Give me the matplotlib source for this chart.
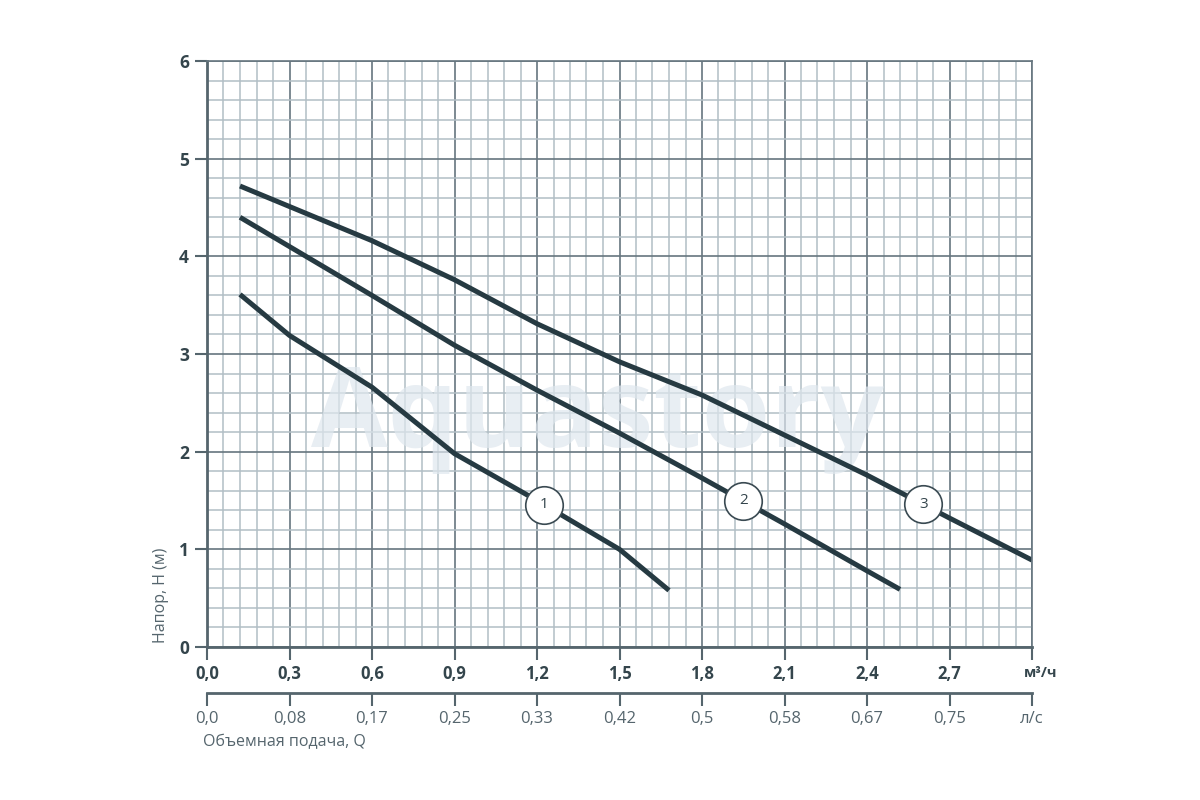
import matplotlib.pyplot as plt
import numpy as np

plt.rcParams['font.family'] = ['Open Sans', 'DejaVu Sans']

# pump curves: flow Q (m3/h) vs head H (m)
q1 = [0.12, 0.3, 0.6, 0.9, 1.2, 1.5, 1.68]
h1 = [3.61, 3.19, 2.66, 1.98, 1.50, 1.00, 0.58]

q2 = [0.12, 0.6, 0.9, 1.2, 1.5, 1.8, 2.1, 2.4, 2.52]
h2 = [4.40, 3.60, 3.09, 2.63, 2.19, 1.73, 1.26, 0.78, 0.59]

q3 = [0.12, 0.6, 0.9, 1.2, 1.5, 1.8, 2.1, 2.4, 2.7, 3.0]
h3 = [4.72, 4.16, 3.76, 3.31, 2.92, 2.58, 2.17, 1.76, 1.32, 0.89]

curve_names = ['1', '2', '3']
label_q = [1.225, 1.95, 2.605]

q_ticks = [0.0, 0.3, 0.6, 0.9, 1.2, 1.5, 1.8, 2.1, 2.4, 2.7, 3.0]
q_labels = ['0,0', '0,3', '0,6', '0,9', '1,2', '1,5', '1,8', '2,1', '2,4', '2,7', '']
ls_labels = ['0,0', '0,08', '0,17', '0,25', '0,33', '0,42', '0,5', '0,58', '0,67', '0,75', 'л/с']
h_ticks = [0, 1, 2, 3, 4, 5, 6]

dark = '#34454c'
mid = '#55656d'

fig = plt.figure(figsize=(12, 8), dpi=100)
ax = fig.add_axes([0.1725, 0.19125, 0.6875, 0.7325])

ax.set_xlim(0, 3.0)
ax.set_ylim(0, 6)
ax.set_xticks(q_ticks)
ax.set_xticklabels(q_labels, fontweight='bold', fontsize=12, color=dark)
ax.set_xticks(np.arange(0, 3.0001, 0.06), minor=True)
ax.set_yticks(h_ticks)
ax.set_yticklabels([str(v) for v in h_ticks], fontweight='bold', fontsize=12.5, color=dark)
ax.set_yticks(np.arange(0, 6.0001, 0.2), minor=True)

ax.set_axisbelow(True)
ax.grid(which='major', color='#66767f', lw=1.2)
ax.grid(which='minor', color='#b2bec5', lw=1.1)

ax.tick_params(which='major', length=9, width=1.5, color=mid, pad=4)
ax.tick_params(which='minor', length=0)
for s in ['top', 'right']:
    ax.spines[s].set_color('#66767f')
    ax.spines[s].set_linewidth(1.2)
for s in ['left', 'bottom']:
    ax.spines[s].set_color(mid)
    ax.spines[s].set_linewidth(2)

# watermark
ax.text(0.473, 0.341, 'Aquastory', transform=ax.transAxes, ha='center', va='baseline',
        fontsize=80, fontweight='bold', color='#dfe7ee', alpha=0.7, zorder=1)

line_color = '#263a42'
for q, h, name, lq in zip([q1, q2, q3], [h1, h2, h3], curve_names, label_q):
    ax.plot(q, h, color=line_color, lw=3.6, solid_capstyle='butt',
            solid_joinstyle='round', zorder=2)
    lh = np.interp(lq, q, h)
    ax.plot([lq], [lh], 'o', ms=27, mfc='white', mec='#3a4a52', mew=1.2, zorder=3)
    ax.text(lq, lh, name, ha='center', va='center', fontsize=11, color=dark, zorder=4)

ax.text(3.03, -0.27, 'м³/ч', ha='center', va='center', fontsize=10.5,
        fontweight='bold', color=dark)

# second flow axis in l/s
sec = ax.secondary_xaxis(-0.0785)
sec.set_xticks(q_ticks)
sec.set_xticklabels(ls_labels, fontsize=12, color=mid)
sec.tick_params(length=9, width=1.5, color=mid, pad=4)
sec.spines['bottom'].set_color(mid)
sec.spines['bottom'].set_linewidth(2)

fig.text(0.134, 0.256, 'Напор, Н (м)', rotation=90, ha='center', va='center',
         fontsize=11.5, color=mid)
fig.text(0.169, 0.0725, 'Объемная подача, Q', ha='left', va='center',
         fontsize=11.5, color=mid)

fig.savefig('out.png', dpi=100)
